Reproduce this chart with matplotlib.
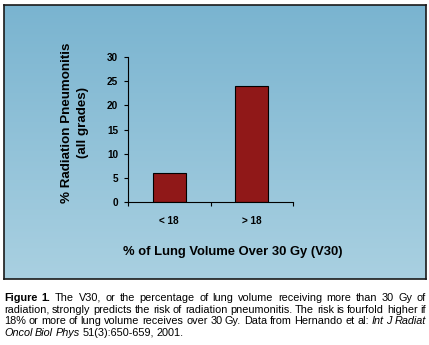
import numpy as np
import matplotlib
matplotlib.use("Agg")
import matplotlib.pyplot as plt

plt.rcParams['font.family'] = ['Liberation Sans', 'DejaVu Sans']

categories = ["< 18", "> 18"]
pneumonitis_pct = [6, 24]
yticks = [0, 5, 10, 15, 20, 25, 30]

caption_lines = [
    [("Figure 1.", "bold", "normal"),
     ("The V30, or the percentage of lung volume receiving more than 30 Gy of", "normal", "normal")],
    [("radiation, strongly predicts the risk of radiation pneumonitis. The risk is fourfold higher if", "normal", "normal")],
    [("18% or more of lung volume receives over 30 Gy. Data from Hernando et al:", "normal", "normal"),
     ("Int J Radiat", "normal", "italic")],
    [("Oncol Biol Phys", "normal", "italic"),
     ("51(3):650-659, 2001.", "normal", "normal")],
]

W, H = 429, 345
fig = plt.figure(figsize=(W / 100, H / 100), dpi=100)
fig.patch.set_facecolor("white")

# gradient panel behind the chart
bg = fig.add_axes([4 / W, 1 - 279 / H, 422 / W, 274 / H])
grad = np.linspace(0, 1, 256).reshape(-1, 1)
top = np.array([0.478, 0.706, 0.816])
bot = np.array([0.663, 0.816, 0.882])
img = top + (bot - top) * grad[:, :, None]
bg.imshow(img, aspect="auto", extent=[0, 1, 0, 1])
bg.set_xticks([])
bg.set_yticks([])
for s in bg.spines.values():
    s.set_color("#1a1a1a")
    s.set_linewidth(1.2)

ax = fig.add_axes([128 / W, 1 - 202 / H, 165 / W, 145 / H])
ax.patch.set_alpha(0)
x = np.arange(len(categories))
ax.bar(x, pneumonitis_pct, width=0.4, color="#901818", edgecolor="black", linewidth=0.8)
ax.set_xlim(-0.5, 1.5)
ax.set_ylim(0, 30)
ax.set_yticks(yticks)
ax.set_yticklabels([str(v) for v in yticks], fontsize=7.2, fontweight="bold")
ax.set_xticks(x)
ax.set_xticklabels(categories, fontsize=7.2, fontweight="bold")
ax.set_xticks([-0.5, 0.5, 1.5], minor=True)
ax.tick_params(axis="x", which="major", length=0, pad=10)
ax.tick_params(axis="x", which="minor", length=3, width=0.8, direction="out")
ax.tick_params(axis="y", length=3, width=0.8, pad=4)
ax.spines["top"].set_visible(False)
ax.spines["right"].set_visible(False)
for s in ["left", "bottom"]:
    ax.spines[s].set_linewidth(0.8)
    ax.spines[s].set_color("black")

fig.text(67 / W, 1 - 123 / H, "% Radiation Pneumonitis", rotation=90, ha="center", va="center",
         fontsize=9.6, fontweight="bold")
fig.text(83 / W, 1 - 123 / H, "(all grades)", rotation=90, ha="center", va="center",
         fontsize=9.6, fontweight="bold")
fig.text(233 / W, 1 - 252 / H, "% of Lung Volume Over 30 Gy (V30)", ha="center", va="center",
         fontsize=9.4, fontweight="bold")

# justified caption, word by word
renderer = fig.canvas.get_renderer()
x0, x1 = 4, 426
baselines = [301, 313, 324, 336]
for li, segs in enumerate(caption_lines):
    words = []
    for txt, wt, st in segs:
        for w in txt.split(" "):
            words.append((w, wt, st))
    objs = []
    widths = []
    for w, wt, st in words:
        t = fig.text(0, 1 - baselines[li] / H, w, fontsize=7.8, fontweight=wt, fontstyle=st,
                     va="baseline", ha="left")
        widths.append(t.get_window_extent(renderer).width)
        objs.append(t)
    if li < len(caption_lines) - 1:
        gap = (x1 - x0 - sum(widths)) / (len(words) - 1)
    else:
        gap = 2.6
    pos = x0
    for t, wd in zip(objs, widths):
        t.set_x(pos / W)
        pos += wd + gap

fig.savefig("out.png", dpi=100)
